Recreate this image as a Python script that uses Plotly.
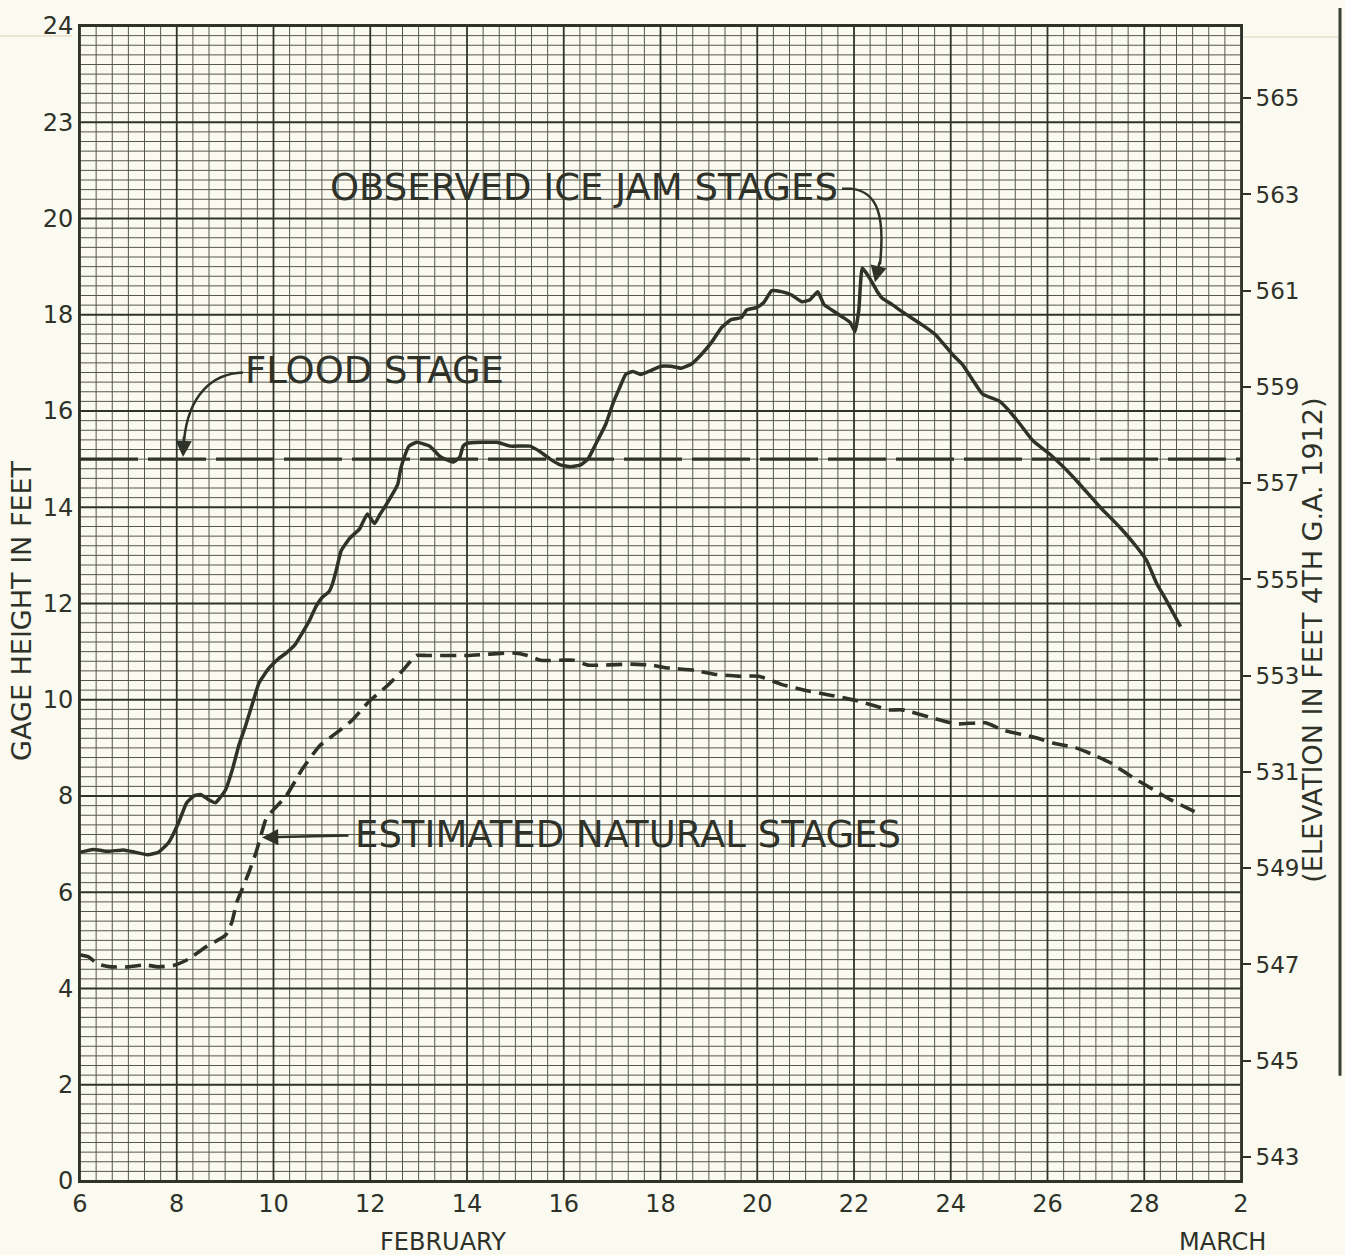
import plotly.graph_objects as go

# ---------------- data ----------------
obs_day = [6.0, 6.27, 6.58, 6.9, 7.1, 7.4, 7.62, 7.83, 8.04, 8.2, 8.35, 8.49, 8.65, 8.8, 9.01, 9.15,
           9.28, 9.42, 9.55, 9.7, 9.91, 10.1, 10.26, 10.45, 10.59, 10.75, 10.88, 11.0, 11.15, 11.22,
           11.3, 11.4, 11.57, 11.78, 11.94, 12.09, 12.2, 12.34, 12.57, 12.62, 12.67, 12.8, 12.96,
           13.23, 13.45, 13.72, 13.85, 13.92, 14.0, 14.62, 14.9, 15.3, 15.52, 15.72, 15.93, 16.14,
           16.35, 16.5, 16.66, 16.87, 17.01, 17.14, 17.28, 17.43, 17.59, 17.8, 18.01, 18.22, 18.43,
           18.63, 18.84, 19.05, 19.26, 19.46, 19.67, 19.78, 19.98, 20.13, 20.3, 20.5, 20.71, 20.92,
           21.09, 21.25, 21.38, 21.54, 21.75, 21.92, 22.02, 22.1, 22.17, 22.3, 22.47, 22.58, 22.79,
           23.0, 23.41, 23.68, 24.04, 24.24, 24.45, 24.66, 25.01, 25.22, 25.43, 25.7, 26.05, 26.53,
           27.09, 27.5, 27.84, 28.05, 28.26, 28.46, 28.75]
obs_gage = [6.83, 6.89, 6.85, 6.88, 6.84, 6.78, 6.83, 7.03, 7.45, 7.85, 8.0, 8.03, 7.93, 7.86, 8.13, 8.55,
            9.04, 9.45, 9.87, 10.35, 10.66, 10.85, 10.97, 11.15, 11.38, 11.66, 11.94, 12.12, 12.25, 12.41,
            12.7, 13.1, 13.35, 13.55, 13.86, 13.66, 13.85, 14.07, 14.48, 14.75, 14.94, 15.27, 15.35,
            15.27, 15.05, 14.94, 15.04, 15.27, 15.33, 15.35, 15.27, 15.27, 15.15, 15.0, 14.88, 14.84,
            14.88, 15.0, 15.31, 15.73, 16.14, 16.45, 16.76, 16.82, 16.76, 16.84, 16.93, 16.93, 16.89,
            16.97, 17.17, 17.42, 17.73, 17.9, 17.94, 18.1, 18.15, 18.25, 18.5, 18.48, 18.41, 18.27,
            18.31, 18.48, 18.21, 18.1, 17.96, 17.84, 17.65, 18.1, 18.97, 18.8, 18.5, 18.35, 18.21,
            18.06, 17.79, 17.59, 17.17, 16.97, 16.65, 16.35, 16.2, 15.99, 15.73, 15.38, 15.1, 14.63,
            14.0, 13.58, 13.18, 12.89, 12.41, 12.06, 11.52]

nat_day = [6.0, 6.17, 6.37, 6.64, 7.0, 7.35, 7.62, 7.97, 8.24, 8.6, 9.01, 9.14, 9.24, 9.35, 9.49, 9.64,
           9.74, 9.84, 9.95, 10.26, 10.59, 10.95, 11.3, 11.63, 11.98, 12.34, 12.67, 12.96, 13.17, 14.0,
           14.96, 15.25, 15.52, 16.2, 16.5, 17.39, 17.8, 18.16, 18.7, 19.11, 19.61, 20.03, 20.5, 20.98,
           21.48, 22.02, 22.44, 22.73, 23.0, 23.62, 24.1, 24.72, 25.08, 25.76, 26.11, 26.59, 27.01,
           27.3, 27.71, 28.19, 28.55, 29.17]
nat_gage = [4.7, 4.66, 4.51, 4.45, 4.45, 4.49, 4.45, 4.49, 4.61, 4.86, 5.11, 5.38, 5.79, 6.06, 6.41, 6.83,
            7.18, 7.51, 7.66, 8.0, 8.55, 9.04, 9.31, 9.58, 9.97, 10.28, 10.61, 10.92, 10.92, 10.92,
            10.97, 10.92, 10.82, 10.82, 10.72, 10.74, 10.72, 10.66, 10.61, 10.53, 10.49, 10.49, 10.32, 10.2,
            10.1, 9.99, 9.87, 9.79, 9.79, 9.62, 9.5, 9.52, 9.37, 9.21, 9.1, 9.0, 8.83,
            8.69, 8.42, 8.13, 7.92, 7.61]

flood_stage = 15.0
day_ticks = [6, 8, 10, 12, 14, 16, 18, 20, 22, 24, 26, 28, 30]
day_labels = ["6", "8", "10", "12", "14", "16", "18", "20", "22", "24", "26", "28", "2"]
gage_ticks = [0, 2, 4, 6, 8, 10, 12, 14, 16, 18, 20, 22, 24]
gage_labels = ["0", "2", "4", "6", "8", "10", "12", "14", "16", "18", "20", "23", "24"]
elev_ticks = [543, 545, 547, 549, 551, 553, 555, 557, 559, 561, 563, 565]
elev_labels = ["543", "545", "547", "549", "531", "553", "555", "557", "559", "561", "563", "565"]
elev_offset = 542.5

# graph-paper rulings: every 1/3 day, every 0.2 ft
minor_days = [6 + k / 3 for k in range(0, 73) if k % 6 != 0]
minor_gage = [round(k * 0.2, 4) for k in range(0, 121) if k % 10 != 0]

# ---------------- style ----------------
INK = "#2e3229"
PAPER = "#fbfaf1"
FONT = "DejaVu Sans"
W, H = 1345, 1255
L, R, T, B = 80, 104, 18, 74
X0, X1, Y0, Y1 = 6, 30, 0, 24
pw, ph = W - L - R, H - T - B


def dx(px):
    return X0 + (px - L) / pw * (X1 - X0)


def gy(py):
    return Y0 + (H - B - py) / ph * (Y1 - Y0)


def px_paper(px):
    return (px - L) / pw


def py_paper(py):
    return (H - B - py) / ph


def rulings(xs, ys):
    gx, gyy = [], []
    for v in xs:
        gx += [v, v, None]
        gyy += [Y0, Y1, None]
    for v in ys:
        gx += [X0, X1, None]
        gyy += [v, v, None]
    return gx, gyy


fig = go.Figure()
mx, my = rulings(minor_days, minor_gage)
fig.add_trace(go.Scatter(x=mx, y=my, mode="lines", line=dict(color="#55574d", width=1),
                         hoverinfo="skip", showlegend=False))
Mx, My = rulings(day_ticks, gage_ticks)
fig.add_trace(go.Scatter(x=Mx, y=My, mode="lines", line=dict(color="#30332b", width=1.8),
                         hoverinfo="skip", showlegend=False))

fig.add_trace(go.Scatter(x=[X0, X1], y=[flood_stage, flood_stage], mode="lines",
                         line=dict(color=INK, width=3.2, dash="58px,10px"), hoverinfo="skip",
                         showlegend=False))
fig.add_trace(go.Scatter(x=nat_day, y=nat_gage, mode="lines",
                         line=dict(color=INK, width=3.6, dash="16px,8px", shape="spline",
                                   smoothing=0.5), showlegend=False))
fig.add_trace(go.Scatter(x=obs_day, y=obs_gage, mode="lines",
                         line=dict(color=INK, width=3.5, shape="spline", smoothing=0.4),
                         showlegend=False))
# invisible trace for right axis
fig.add_trace(go.Scatter(x=[X0], y=[elev_offset], yaxis="y2", mode="markers",
                         marker=dict(opacity=0), hoverinfo="skip", showlegend=False))

fig.update_layout(
    width=W, height=H,
    margin=dict(l=L, r=R, t=T, b=B, pad=0),
    paper_bgcolor=PAPER, plot_bgcolor=PAPER,
    font=dict(family=FONT, color=INK, size=24),
    xaxis=dict(range=[X0, X1], tickmode="array", tickvals=day_ticks, ticktext=day_labels,
               ticks="", showline=True, linecolor=INK, linewidth=2, mirror=True,
               zeroline=False, showgrid=False, tickfont=dict(size=24)),
    yaxis=dict(range=[Y0, Y1], tickmode="array", tickvals=gage_ticks, ticktext=gage_labels,
               ticks="", showline=True, linecolor=INK, linewidth=2, mirror=True,
               zeroline=False, showgrid=False, tickfont=dict(size=24)),
    yaxis2=dict(range=[Y0 + elev_offset, Y1 + elev_offset], overlaying="y", side="right",
                tickmode="array", tickvals=elev_ticks, ticktext=elev_labels,
                ticks="outside", ticklen=9, tickwidth=1.5, tickcolor=INK,
                showgrid=False, zeroline=False, showline=False, tickfont=dict(size=23)),
)

# text annotations
txt = dict(showarrow=False, font=dict(family=FONT, size=37, color=INK))
fig.add_annotation(x=dx(328), y=gy(181), text="OBSERVED ICE JAM STAGES", xanchor="left",
                   yanchor="middle", **txt)
fig.add_annotation(x=dx(243), y=gy(365), text="FLOOD STAGE", xanchor="left", yanchor="middle", **txt)
fig.add_annotation(x=dx(353), y=gy(832), text="ESTIMATED NATURAL STAGES", xanchor="left",
                   yanchor="middle", **txt)

# axis titles
ctr = dict(showarrow=False, xanchor="center", yanchor="middle", xref="paper", yref="paper")
fig.add_annotation(x=px_paper(22), y=py_paper(607), text="GAGE HEIGHT IN FEET", textangle=-90,
                   font=dict(size=27, color=INK, family=FONT), **ctr)
fig.add_annotation(x=px_paper(1313), y=py_paper(637), text="(ELEVATION IN FEET 4TH G.A. 1912)",
                   textangle=-90, font=dict(size=27, color=INK, family=FONT), **ctr)
fig.add_annotation(x=px_paper(443), y=py_paper(1242), text="FEBRUARY",
                   font=dict(size=24, color=INK, family=FONT), **ctr)
fig.add_annotation(x=px_paper(1222), y=py_paper(1242), text="MARCH",
                   font=dict(size=24, color=INK, family=FONT), **ctr)

# arrows (decorations)
fig.add_shape(type="path", xref="x", yref="y",
              path=f"M {dx(842)},{gy(182)} L {dx(852)},{gy(182)} "
                   f"C {dx(878)},{gy(185)} {dx(885)},{gy(210)} {dx(880)},{gy(258)}",
              line=dict(color=INK, width=2.5))
fig.add_annotation(x=dx(875), y=gy(276), ax=5, ay=-22, text="", showarrow=True,
                   arrowhead=2, arrowsize=1.3, arrowwidth=2.5, arrowcolor=INK)
fig.add_shape(type="path", xref="x", yref="y",
              path=f"M {dx(243)},{gy(367)} C {dx(212)},{gy(368)} {dx(188)},{gy(390)} {dx(184)},{gy(436)}",
              line=dict(color=INK, width=2.5))
fig.add_annotation(x=dx(183), y=gy(452), ax=1, ay=-22, text="", showarrow=True,
                   arrowhead=2, arrowsize=1.3, arrowwidth=2.5, arrowcolor=INK)
fig.add_annotation(x=dx(262), y=gy(835), ax=88, ay=-2, text="", showarrow=True,
                   arrowhead=2, arrowsize=1.3, arrowwidth=2.5, arrowcolor=INK)

# page edge lines
fig.add_shape(type="line", xref="paper", yref="paper", x0=px_paper(1340), x1=px_paper(1340),
              y0=py_paper(0), y1=py_paper(1075), line=dict(color="#3a4237", width=3))
fig.add_shape(type="line", xref="paper", yref="paper", x0=px_paper(0), x1=px_paper(72),
              y0=py_paper(28), y1=py_paper(28), line=dict(color="#e6dfc8", width=1.5))
fig.add_shape(type="line", xref="paper", yref="paper", x0=px_paper(1243), x1=px_paper(1338),
              y0=py_paper(29), y1=py_paper(29), line=dict(color="#e6dfc8", width=1.5))

fig.write_html("out.html", post_script="document.body.style.margin='0';",
               config={"displayModeBar": False})
